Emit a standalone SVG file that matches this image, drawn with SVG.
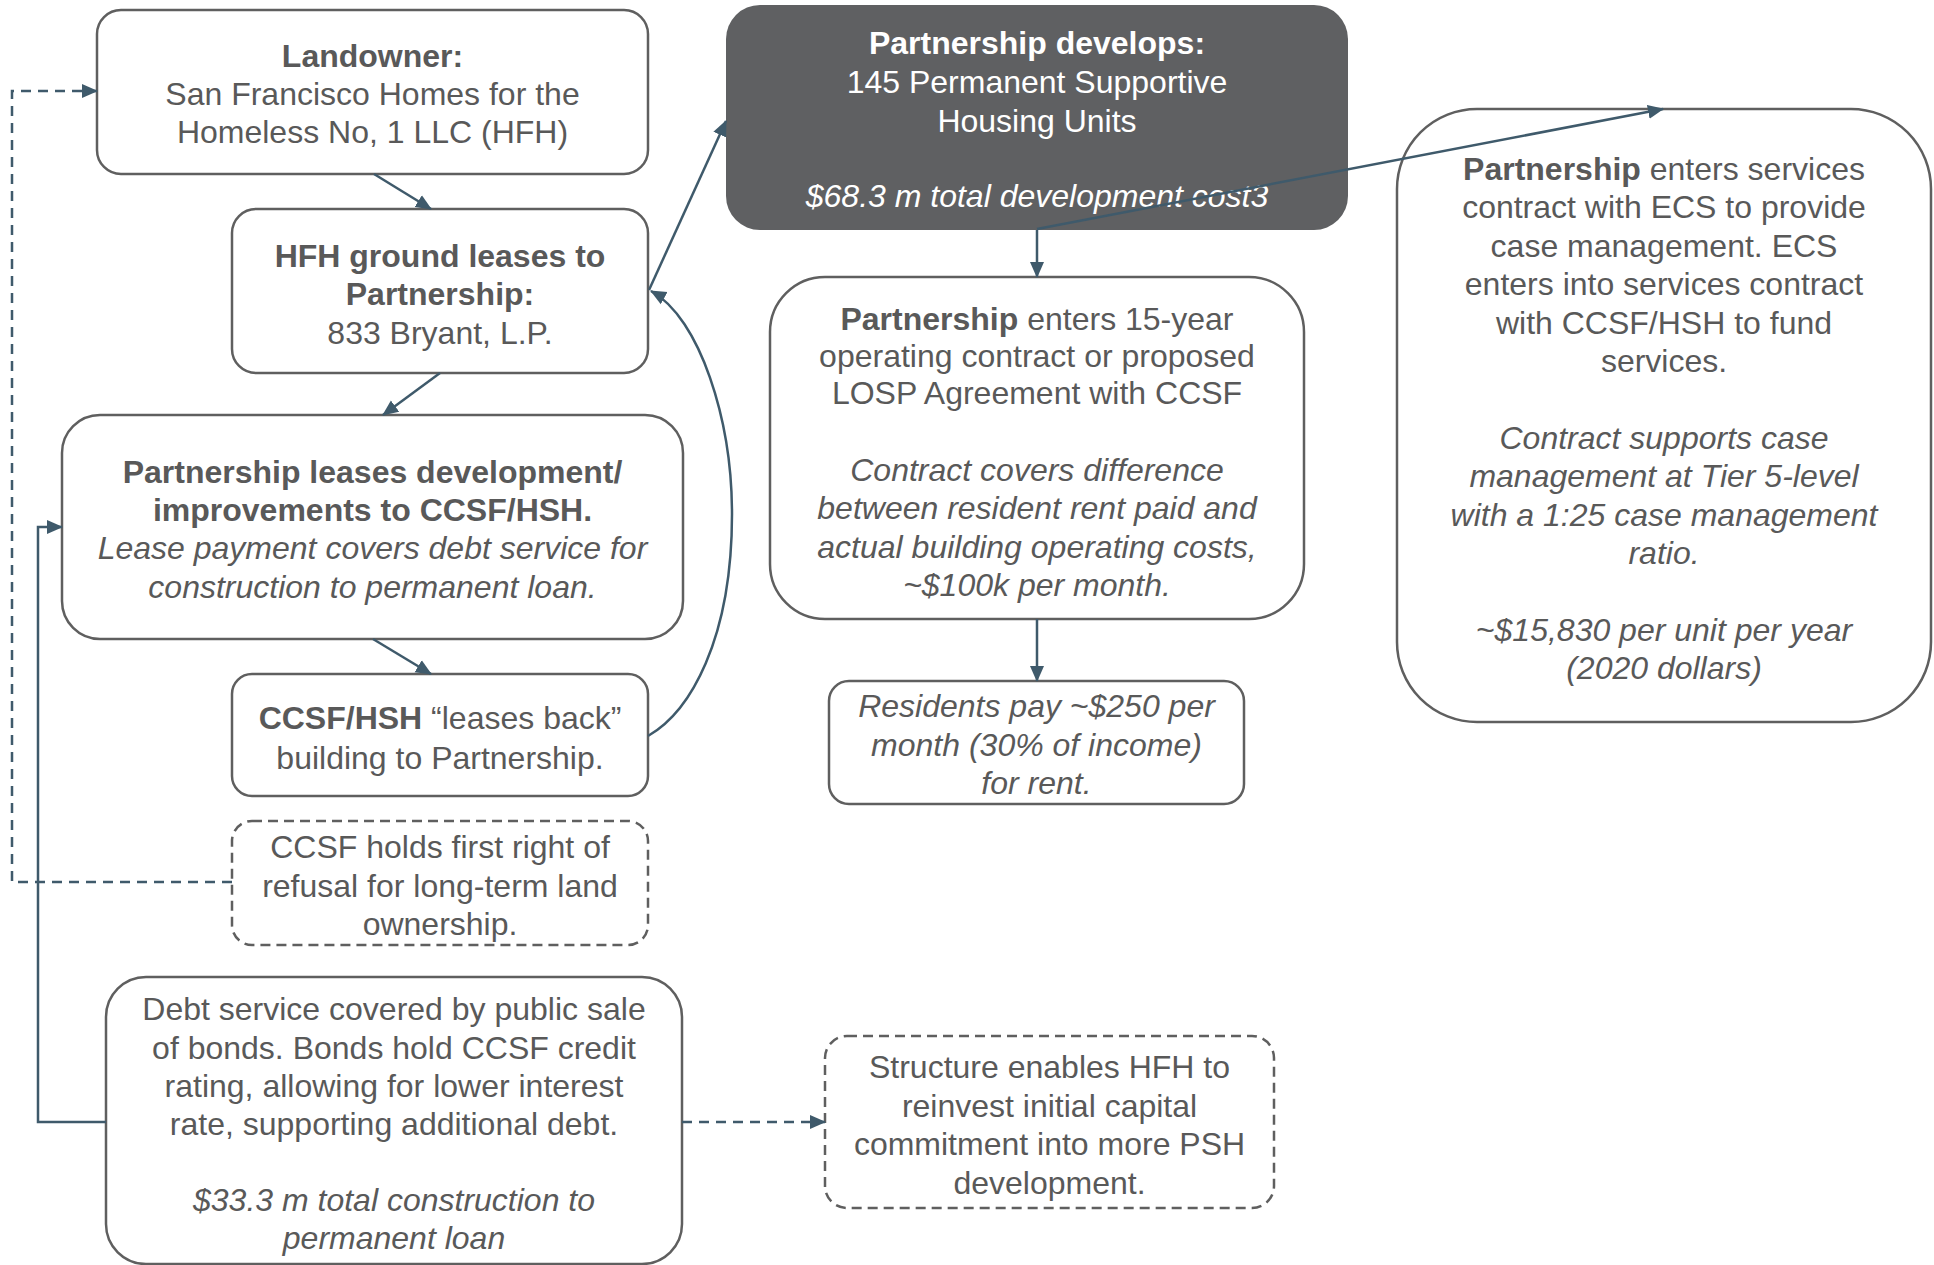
<svg xmlns="http://www.w3.org/2000/svg" width="1934" height="1265" viewBox="0 0 1934 1265">
<style>
.box{fill:#ffffff;stroke:#5f5f5f;stroke-width:2.5}
.dash{stroke-dasharray:10 6}
.dark{fill:#5f6062;stroke:none}
text{font-family:"Liberation Sans",Arial,sans-serif;font-size:32px;fill:#595959;text-anchor:middle}
.b{font-weight:bold}
.i{font-style:italic}
.w{fill:#ffffff}
.conn{fill:none;stroke:#3f5a6b;stroke-width:2.5}
.dconn{fill:none;stroke:#3f5a6b;stroke-width:2.5;stroke-dasharray:10 7}
</style>
<defs>
<marker id="ah" markerUnits="userSpaceOnUse" markerWidth="16" markerHeight="16" refX="15" refY="8" orient="auto" viewBox="0 0 16 16">
<path d="M0,1 L16,8 L0,15 z" fill="#3f5a6b"/>
</marker>
</defs>
<rect width="1934" height="1265" fill="#ffffff"/>

<g id="landowner">
<rect class="box" x="97" y="10" width="551" height="164" rx="24"/>
<text x="372.5" y="66.5" class="b">Landowner:</text>
<text x="372.5" y="104.5">San Francisco Homes for the</text>
<text x="372.5" y="142.5">Homeless No, 1 LLC (HFH)</text>
</g>

<g id="hfh-ground-lease">
<rect class="box" x="232" y="209" width="416" height="164" rx="24"/>
<text x="440" y="266.5" class="b">HFH ground leases to</text>
<text x="440" y="304.5" class="b">Partnership:</text>
<text x="440" y="343.5">833 Bryant, L.P.</text>
</g>

<g id="partnership-leases">
<rect class="box" x="62" y="415" width="621" height="224" rx="38"/>
<text x="372.5" y="482.5" class="b">Partnership leases development/</text>
<text x="372.5" y="520.5" class="b">improvements to CCSF/HSH.</text>
<text x="372.5" y="558.5" class="i">Lease payment covers debt service for</text>
<text x="372.5" y="597.5" class="i">construction to permanent loan.</text>
</g>

<g id="leases-back">
<rect class="box" x="232" y="674" width="416" height="122" rx="20"/>
<text x="440" y="728.5"><tspan class="b">CCSF/HSH</tspan> “leases back”</text>
<text x="440" y="768.5">building to Partnership.</text>
</g>

<g id="right-of-refusal">
<rect class="box dash" x="232" y="821" width="416" height="124" rx="20"/>
<text x="440" y="857.5">CCSF holds first right of</text>
<text x="440" y="896.5">refusal for long-term land</text>
<text x="440" y="934.5">ownership.</text>
</g>

<g id="debt-service">
<rect class="box" x="106" y="977" width="576" height="287" rx="40"/>
<text x="394" y="1019.5">Debt service covered by public sale</text>
<text x="394" y="1058.5">of bonds. Bonds hold CCSF credit</text>
<text x="394" y="1096.5">rating, allowing for lower interest</text>
<text x="394" y="1134.5">rate, supporting additional debt.</text>
<text x="394" y="1210.5" class="i">$33.3 m total construction to</text>
<text x="394" y="1248.5" class="i">permanent loan</text>
</g>

<g id="structure">
<rect class="box dash" x="825" y="1036" width="449" height="172" rx="22"/>
<text x="1049.5" y="1077.5">Structure enables HFH to</text>
<text x="1049.5" y="1116.5">reinvest initial capital</text>
<text x="1049.5" y="1154.5">commitment into more PSH</text>
<text x="1049.5" y="1193.5">development.</text>
</g>

<g id="partnership-develops">
<rect class="dark" x="726" y="5" width="622" height="225" rx="34"/>
<text x="1037" y="53.5" class="b w">Partnership develops:</text>
<text x="1037" y="92.5" class="w">145 Permanent Supportive</text>
<text x="1037" y="131.5" class="w">Housing Units</text>
<text x="1037" y="206.5" class="i w">$68.3 m total development cost3</text>
</g>

<g id="operating-contract">
<rect class="box" x="770" y="277" width="534" height="342" rx="55"/>
<text x="1037" y="329.5"><tspan class="b">Partnership</tspan> enters 15-year</text>
<text x="1037" y="366.5">operating contract or proposed</text>
<text x="1037" y="403.5">LOSP Agreement with CCSF</text>
<text x="1037" y="480.5" class="i">Contract covers difference</text>
<text x="1037" y="518.5" class="i">between resident rent paid and</text>
<text x="1037" y="557.5" class="i">actual building operating costs,</text>
<text x="1037" y="595.5" class="i">~$100k per month.</text>
</g>

<g id="residents">
<rect class="box" x="829" y="681" width="415" height="123" rx="20"/>
<text x="1036.5" y="716.5" class="i">Residents pay ~$250 per</text>
<text x="1036.5" y="755.5" class="i">month (30% of income)</text>
<text x="1036.5" y="793.5" class="i">for rent.</text>
</g>

<g id="services-contract">
<rect class="box" x="1397" y="109" width="534" height="613" rx="80"/>
<text x="1664" y="179.5"><tspan class="b">Partnership</tspan> enters services</text>
<text x="1664" y="217.5">contract with ECS to provide</text>
<text x="1664" y="256.5">case management. ECS</text>
<text x="1664" y="294.5">enters into services contract</text>
<text x="1664" y="333.5">with CCSF/HSH to fund</text>
<text x="1664" y="371.5">services.</text>
<text x="1664" y="448.5" class="i">Contract supports case</text>
<text x="1664" y="486.5" class="i">management at Tier 5-level</text>
<text x="1664" y="525.5" class="i">with a 1:25 case management</text>
<text x="1664" y="563.5" class="i">ratio.</text>
<text x="1664" y="640.5" class="i">~$15,830 per unit per year</text>
<text x="1664" y="678.5" class="i">(2020 dollars)</text>
</g>

<g id="connectors">
<line class="conn" x1="374" y1="174" x2="431" y2="209" marker-end="url(#ah)"/>
<line class="conn" x1="440" y1="373" x2="383" y2="415" marker-end="url(#ah)"/>
<line class="conn" x1="373" y1="639" x2="431" y2="674" marker-end="url(#ah)"/>
<line class="conn" x1="649" y1="290" x2="726" y2="121" marker-end="url(#ah)"/>
<path class="conn" d="M648,736 C690,712 732,640 732,514 C732,420 700,318 651,291" marker-end="url(#ah)"/>
<line class="conn" x1="1037" y1="230" x2="1037" y2="277" marker-end="url(#ah)"/>
<line class="conn" x1="1037" y1="229" x2="1663" y2="109" marker-end="url(#ah)"/>
<line class="conn" x1="1037" y1="619" x2="1037" y2="681" marker-end="url(#ah)"/>
<polyline class="dconn" points="232,882 12,882 12,91 97,91" marker-end="url(#ah)"/>
<polyline class="conn" points="106,1122 38,1122 38,527 62,527" marker-end="url(#ah)"/>
<line class="dconn" x1="682" y1="1122" x2="825" y2="1122" marker-end="url(#ah)"/>
</g>
</svg>
